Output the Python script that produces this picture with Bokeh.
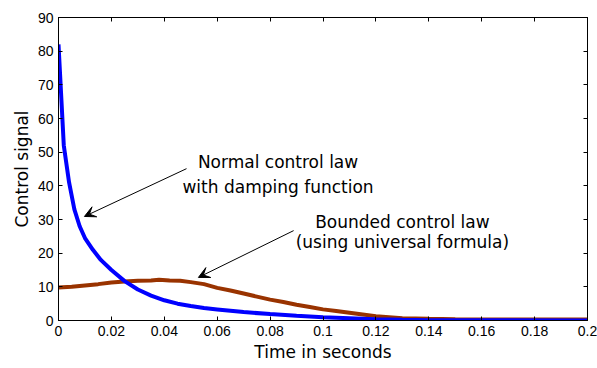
from bokeh.plotting import figure
from bokeh.models import (Range1d, FixedTicker, LinearAxis, Label, Arrow, VeeHead)
from bokeh.embed import file_html
from bokeh.resources import INLINE

# ---- data ----
t_normal = [0, 0.002, 0.004, 0.006, 0.008, 0.010, 0.013, 0.016, 0.020, 0.025,
            0.030, 0.035, 0.040, 0.045, 0.050, 0.055, 0.060, 0.070, 0.080,
            0.090, 0.100, 0.110, 0.120, 0.130, 0.140, 0.200]
u_normal = [82, 52, 41, 33, 28, 24.5, 21, 18, 15, 11.7,
            9.2, 7.4, 6.0, 5.0, 4.3, 3.7, 3.3, 2.5, 1.9,
            1.4, 1.0, 0.7, 0.4, 0.2, 0.1, 0.0]

t_bounded = [0, 0.005, 0.010, 0.015, 0.020, 0.025, 0.030, 0.035, 0.038, 0.042,
             0.046, 0.050, 0.055, 0.060, 0.065, 0.070, 0.075, 0.080, 0.085,
             0.090, 0.095, 0.100, 0.105, 0.110, 0.115, 0.120, 0.125, 0.130,
             0.140, 0.150, 0.160, 0.200]
u_bounded = [9.8, 10.0, 10.4, 10.8, 11.3, 11.6, 11.8, 11.9, 12.1, 11.9,
             11.8, 11.4, 10.8, 9.7, 8.9, 8.0, 7.1, 6.2, 5.5,
             4.7, 4.0, 3.3, 2.8, 2.3, 1.8, 1.3, 1.0, 0.7,
             0.5, 0.35, 0.3, 0.3]

x_ticks = [0, 0.02, 0.04, 0.06, 0.08, 0.1, 0.12, 0.14, 0.16, 0.18, 0.2]
x_tick_labels = ["0", "0.02", "0.04", "0.06", "0.08", "0.1", "0.12", "0.14", "0.16", "0.18", "0.2"]
y_ticks = [0, 10, 20, 30, 40, 50, 60, 70, 80, 90]

x_title = "Time in seconds"
y_title = "Control signal"
note1_lines = ["Normal control law", "with damping function"]
note2_lines = ["Bounded control law", "(using universal formula)"]

# ---- figure ----
p = figure(width=597, height=368, output_backend="svg", toolbar_location=None,
           x_range=Range1d(0, 0.2), y_range=Range1d(0, 90),
           min_border_left=58, min_border_right=10, min_border_top=17, min_border_bottom=48)
p.grid.visible = False
p.outline_line_color = "black"
p.outline_line_width = 1
p.background_fill_color = "white"
p.border_fill_color = "white"

tick_font = "Liberation Sans"
title_font = "DejaVu Sans"

def style_axis(ax, labels=True):
    ax.major_tick_in = 4
    ax.major_tick_out = 0
    ax.minor_tick_line_color = None
    ax.axis_line_color = "black"
    ax.major_tick_line_color = "black"
    ax.major_label_text_font = tick_font
    if labels:
        ax.major_label_text_font_size = "14px"
        ax.major_label_text_color = "black"
        ax.major_label_standoff = 5
    else:
        ax.major_label_text_font_size = "1px"
        ax.major_label_text_color = None
        ax.major_label_standoff = 0

xax = p.xaxis[0]
xax.ticker = FixedTicker(ticks=x_ticks)
xax.major_label_overrides = {t: l for t, l in zip(x_ticks, x_tick_labels)}
style_axis(xax)
xax.axis_label = x_title
xax.axis_label_text_font = title_font
xax.axis_label_text_font_size = "17px"
xax.axis_label_text_font_style = "normal"
xax.axis_label_text_color = "black"
xax.axis_label_standoff = 3

yax = p.yaxis[0]
yax.ticker = FixedTicker(ticks=y_ticks)
style_axis(yax)
yax.axis_label = y_title
yax.axis_label_text_font = title_font
yax.axis_label_text_font_size = "17px"
yax.axis_label_text_font_style = "normal"
yax.axis_label_text_color = "black"
yax.axis_label_standoff = 3

top = LinearAxis(ticker=FixedTicker(ticks=x_ticks))
style_axis(top, labels=False)
p.add_layout(top, "above")
right = LinearAxis(ticker=FixedTicker(ticks=y_ticks))
style_axis(right, labels=False)
p.add_layout(right, "right")

p.line(t_bounded, u_bounded, line_color="#993300", line_width=4)
p.line(t_normal, u_normal, line_color="#0000FF", line_width=4)

# ---- annotations ----
def add_note(lines, x, ys):
    for txt, y in zip(lines, ys):
        p.add_layout(Label(x=x, y=y, text=txt, text_font=title_font, text_font_size="17px",
                           text_align="center", text_baseline="middle", text_color="black"))

add_note(note1_lines, 0.0830, [47.2, 39.8])
add_note(note2_lines, 0.1300, [29.2, 23.4])

p.add_layout(Arrow(x_start=0.0484, y_start=45.1, x_end=0.0098, y_end=30.9,
                   line_color="black", line_width=1,
                   end=VeeHead(size=11, fill_color="black", line_color="black")))
p.add_layout(Arrow(x_start=0.0889, y_start=26.7, x_end=0.0529, y_end=12.8,
                   line_color="black", line_width=1,
                   end=VeeHead(size=11, fill_color="black", line_color="black")))

open("out.html", "w").write(file_html(p, INLINE))
